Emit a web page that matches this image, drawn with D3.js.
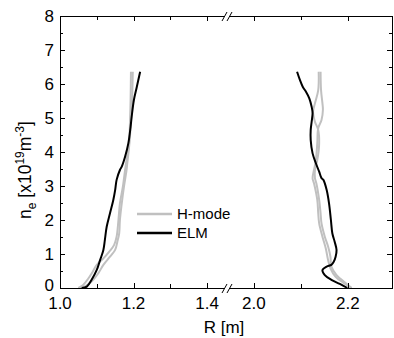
<!DOCTYPE html>
<html><head><meta charset="utf-8">
<script src="https://cdn.jsdelivr.net/npm/d3@7"></script>
<style>body{margin:0;background:#fff}svg{display:block}text{font-family:"Liberation Sans",Arial,sans-serif;fill:#000}</style>
</head><body><svg id="c" width="394" height="338"></svg>
<script>
// Data: [R (m), n_e (1e19 m^-3)]
const hmode1Inner = [[1.050,0],[1.063,0.02],[1.086,0.19],[1.104,0.43],[1.118,0.68],[1.136,0.92],[1.150,1.12],[1.156,1.36],[1.161,1.61],[1.163,2.00],[1.168,2.49],[1.174,2.98],[1.181,3.47],[1.183,3.67],[1.188,4.16],[1.192,4.74],[1.196,5.53],[1.198,6.36]];
const hmode2Inner = [[1.050,0],[1.063,0.09],[1.077,0.28],[1.089,0.48],[1.100,0.68],[1.118,0.87],[1.134,1.07],[1.147,1.26],[1.154,1.51],[1.159,2.00],[1.163,2.49],[1.171,2.98],[1.177,3.47],[1.181,3.76],[1.188,4.26],[1.190,4.74],[1.192,5.53],[1.193,6.36]];
const elmInner = [[1.059,0],[1.073,0.04],[1.086,0.24],[1.100,0.53],[1.109,0.82],[1.118,1.12],[1.122,1.41],[1.127,1.80],[1.136,2.20],[1.145,2.59],[1.150,2.88],[1.154,3.18],[1.163,3.47],[1.168,3.57],[1.177,3.86],[1.186,4.26],[1.192,4.74],[1.195,5.04],[1.201,5.53],[1.209,5.92],[1.218,6.36]];
const hmode1Outer = [[2.142,6.36],[2.143,5.82],[2.146,5.43],[2.147,5.24],[2.144,4.94],[2.137,4.70],[2.135,4.26],[2.132,3.76],[2.128,3.47],[2.125,3.23],[2.128,3.08],[2.135,2.59],[2.137,2.20],[2.139,1.90],[2.146,1.51],[2.153,1.17],[2.158,0.82],[2.163,0.58],[2.174,0.33],[2.190,0.16],[2.208,0]];
const hmode2Outer = [[2.138,6.36],[2.137,5.82],[2.130,5.43],[2.126,5.19],[2.130,4.89],[2.137,4.65],[2.139,4.26],[2.135,3.76],[2.130,3.47],[2.130,3.23],[2.133,3.08],[2.139,2.59],[2.142,2.20],[2.144,1.90],[2.151,1.51],[2.158,1.22],[2.163,0.92],[2.165,0.63],[2.176,0.38],[2.194,0.16],[2.208,0]];
const elmOuter = [[2.092,6.36],[2.098,6.12],[2.104,5.92],[2.111,5.77],[2.118,5.58],[2.123,5.33],[2.125,5.14],[2.123,4.89],[2.121,4.65],[2.121,4.35],[2.125,3.96],[2.132,3.67],[2.139,3.42],[2.144,3.23],[2.148,3.18],[2.155,2.88],[2.160,2.49],[2.164,2.00],[2.167,1.61],[2.172,1.36],[2.176,1.12],[2.174,0.92],[2.170,0.77],[2.165,0.68],[2.155,0.63],[2.146,0.53],[2.151,0.38],[2.165,0.24],[2.183,0.12],[2.199,0]];
const xTicksLeft = [1.0,1.1,1.2,1.3,1.4];
const xTicksRight = [2.0,2.1,2.2];
const xLabelTicks = [1.0,1.2,1.4,2.0,2.2];
const yTicks = [0,1,2,3,4,5,6,7,8];
const yMinor = [0.5,1.5,2.5,3.5,4.5,5.5,6.5,7.5];
const legendItems = [{name:"H-mode",color:"#c0c0c0"},{name:"ELM",color:"#000"}];

const svg = d3.select("#c");
const L=60, R=392, T=16, B=288, BRK=228;
const xL = d3.scaleLinear().domain([1.0,1.457]).range([L,BRK]);
const xR = d3.scaleLinear().domain([1.945,2.294]).range([BRK,R]);
const y = d3.scaleLinear().domain([0,8]).range([B,T]);

function drawLine(data, xs, color, w){
  svg.append("path").datum(data)
    .attr("fill","none").attr("stroke",color).attr("stroke-width",w)
    .attr("stroke-linejoin","round")
    .attr("d", d3.line().x(d=>xs(d[0])).y(d=>y(d[1])).curve(d3.curveCatmullRom));
}
const gray="#c0c0c0";
drawLine(hmode1Inner,xL,gray,2);
drawLine(hmode2Inner,xL,gray,2);
drawLine(hmode1Outer,xR,gray,2);
drawLine(hmode2Outer,xR,gray,2);
drawLine(elmInner,xL,"#000",2);
drawLine(elmOuter,xR,"#000",2);

// frame
const ax = svg.append("g").attr("stroke","#000").attr("stroke-width",1).attr("fill","none");
ax.append("line").attr("x1",L).attr("x2",R).attr("y1",B+0.5).attr("y2",B+0.5);
ax.append("line").attr("x1",L).attr("x2",R).attr("y1",T+0.5).attr("y2",T+0.5);
ax.append("line").attr("x1",L+0.5).attr("x2",L+0.5).attr("y1",T).attr("y2",B+1);
ax.append("line").attr("x1",R+0.5).attr("x2",R+0.5).attr("y1",T).attr("y2",B+1);

// x ticks
function xt(v, xs){
  const major = xLabelTicks.some(t=>Math.abs(t-v)<1e-6);
  const len = major?5:4;
  const px = Math.round(xs(v))+0.5;
  ax.append("line").attr("x1",px).attr("x2",px).attr("y1",B).attr("y2",B-len);
  ax.append("line").attr("x1",px).attr("x2",px).attr("y1",T).attr("y2",T+len);
}
xTicksLeft.forEach(v=>xt(v,xL));
xTicksRight.forEach(v=>xt(v,xR));
// y ticks
yTicks.forEach(v=>{
  const py=Math.round(y(v))+0.5;
  ax.append("line").attr("x1",L).attr("x2",L+5).attr("y1",py).attr("y2",py);
  ax.append("line").attr("x1",R).attr("x2",R-5).attr("y1",py).attr("y2",py);
});
yMinor.forEach(v=>{
  const py=Math.round(y(v))+0.5;
  ax.append("line").attr("x1",L).attr("x2",L+3).attr("y1",py).attr("y2",py);
  ax.append("line").attr("x1",R).attr("x2",R-3).attr("y1",py).attr("y2",py);
});

// break marks
[T,B].forEach(yy=>{
  svg.append("rect").attr("x",BRK-4).attr("y",yy-1).attr("width",6).attr("height",3).attr("fill","#fff");
  [-4,1].forEach(dx=>{
    svg.append("line").attr("x1",BRK+dx-2).attr("y1",yy+5).attr("x2",BRK+dx+3).attr("y2",yy-4)
      .attr("stroke","#000").attr("stroke-width",1);
  });
});

// tick labels
const fs=17;
xLabelTicks.forEach(v=>{
  const xs = v<1.5?xL:xR;
  svg.append("text").attr("x",xs(v)).attr("y",309).attr("text-anchor","middle").attr("font-size",fs).text(d3.format(".1f")(v));
});
yTicks.forEach(v=>{
  svg.append("text").attr("x",54).attr("y",v===0?y(v)+3:y(v)+6).attr("text-anchor","end").attr("font-size",fs).text(v);
});

// axis titles
svg.append("text").attr("x",224).attr("y",333).attr("text-anchor","middle").attr("font-size",17).text("R [m]");
const yl = svg.append("text").attr("transform","translate(31,170) rotate(-90)").attr("text-anchor","middle").attr("font-size",17.5);
yl.append("tspan").text("n");
yl.append("tspan").attr("dy",5).attr("font-size",12).text("e");
yl.append("tspan").attr("dy",-5).text(" [x10");
yl.append("tspan").attr("dy",-7).attr("font-size",12).text("19");
yl.append("tspan").attr("dy",7).text("m");
yl.append("tspan").attr("dy",-7).attr("font-size",12).text("-3");
yl.append("tspan").attr("dy",7).text("]");

// legend
legendItems.forEach((it,i)=>{
  const ly = 214 + i*19;
  svg.append("line").attr("x1",137).attr("x2",172).attr("y1",ly).attr("y2",ly).attr("stroke",it.color).attr("stroke-width",2.5);
  svg.append("text").attr("x",177).attr("y",ly+5).attr("font-size",15).text(it.name);
});
</script></body></html>
